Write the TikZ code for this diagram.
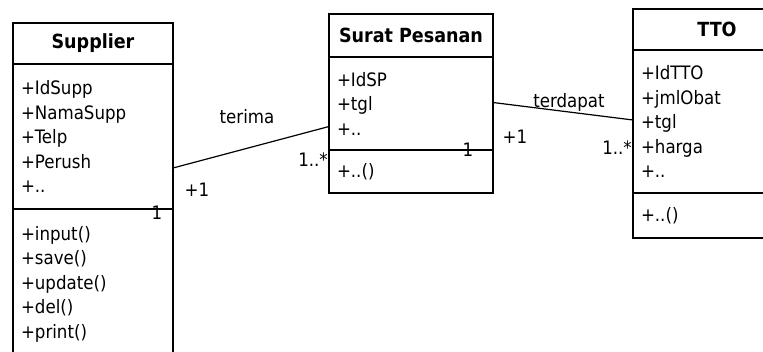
\documentclass[tikz,border=0pt]{standalone}
\usepackage{fontspec}
\setmainfont{DejaVu Sans Condensed}
\usetikzlibrary{positioning}
\newcommand{\umlsize}[1]{\fontsize{#1}{24.5pt}\selectfont}
\tikzset{
    classname/.style={draw, line width=1.4pt, outer sep=0pt, inner sep=0pt, font=\umlsize{19.5pt}\bfseries, anchor=north},
    classpart/.style={draw, line width=1.4pt, outer sep=0pt, inner xsep=8pt, inner ysep=0pt, align=left, font=\umlsize{18.5pt}},
    assoc/.style={draw, line width=1.2pt},
    mult/.style={inner sep=1pt, font=\umlsize{18.5pt}}
}

\begin{document}
\begin{tikzpicture}[x=1pt, y=-1pt]
    \clip (0,0) rectangle (763,351);
    % Nodes
    \node[classname, minimum width=160pt, minimum height=41pt] (supp) at (93,23) {Supplier};
    \node[classpart, text width=144pt, minimum height=145pt, below=0pt of supp] (supp-attr)
        {+IdSupp\\+NamaSupp\\+Telp\\+Perush\\+..};
    \node[classpart, text width=144pt, minimum height=150pt, below=0pt of supp-attr] (supp-meth)
        {+input()\\+save()\\+update()\\+del()\\+print()};

    \node[classname, minimum width=164pt, minimum height=43pt] (sp) at (411,14) {Surat Pesanan};
    \node[classpart, text width=148pt, minimum height=93pt, below=0pt of sp] (sp-attr)
        {+IdSP\\+tgl\\+..};
    \node[classpart, text width=148pt, minimum height=43pt, below=0pt of sp-attr] (sp-meth)
        {+..()};

    \node[classname, minimum width=168pt, minimum height=41pt] (tto) at (717,9) {TTO};
    \node[classpart, text width=152pt, minimum height=143pt, below=0pt of tto] (tto-attr)
        {+IdTTO\\+jmlObat\\+tgl\\+harga\\+..};
    \node[classpart, text width=152pt, minimum height=45pt, below=0pt of tto-attr] (tto-meth)
        {+..()};

    % labels
    \node[mult] (terima) at (247,117) {terima};
    \node[mult] (supp-one) at (197,190) {+1};
    \node[mult, anchor=east] (sp-many) at (329,160) {1..*};
    \node[mult] (supp-1) at (157,213) {1};
    \node[mult] (terdapat) at (569,102) {terdapat};
    \node[mult] (sp-one) at (515,137) {+1};
    \node[mult, anchor=east] (tto-many) at (633,148) {1..*};
    \node[mult] (sp-1) at (468,150) {1};

    % edges
    \draw[assoc] ([yshift=-31.5pt]supp-attr.east) -- ([yshift=-23pt]sp-attr.west);
    \draw[assoc] ([yshift=1pt]sp-attr.east) -- ([yshift=1.5pt]tto-attr.west);
\end{tikzpicture}
\end{document}
